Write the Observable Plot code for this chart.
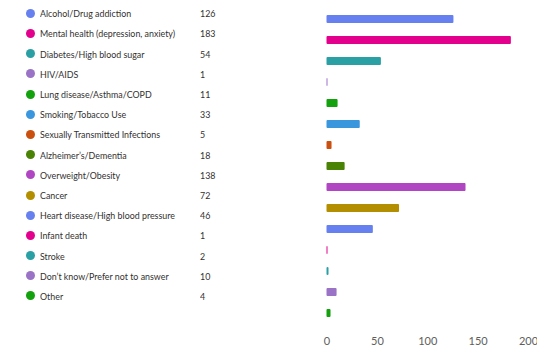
<!DOCTYPE html>
<html>
<head>
<meta charset="utf-8">
<script src="https://cdn.jsdelivr.net/npm/d3@7"></script>
<script src="https://cdn.jsdelivr.net/npm/@observablehq/plot@0.6"></script>
<style>
  html, body { margin: 0; padding: 0; background: #fff; }
  #wrap { position: relative; width: 537px; height: 348px; overflow: hidden; font-family: Lato, "Noto Sans", sans-serif; }
  #list { position: absolute; left: 0; top: 0; }
  .row { position: absolute; left: 0; height: 20px; display: flex; align-items: center; color: #323130; white-space: nowrap; font-size: 10.2px; }
  .dot { position: absolute; left: 25.5px; width: 9px; height: 9px; border-radius: 50%; }
  .lab, .val { position: absolute; transform: scaleX(0.87); transform-origin: left center; }
  .lab { left: 40px; }
  .val { left: 200px; }
  #chart { position: absolute; left: 0; top: 0; }
</style>
</head>
<body>
<div id="wrap"><div id="chart"></div><div id="list"></div></div>
<script>
// Survey answers: health concerns and number of responses
const categories = [
  "Alcohol/Drug addiction",
  "Mental health (depression, anxiety)",
  "Diabetes/High blood sugar",
  "HIV/AIDS",
  "Lung disease/Asthma/COPD",
  "Smoking/Tobacco Use",
  "Sexually Transmitted Infections",
  "Alzheimer’s/Dementia",
  "Overweight/Obesity",
  "Cancer",
  "Heart disease/High blood pressure",
  "Infant death",
  "Stroke",
  "Don’t know/Prefer not to answer",
  "Other"
];
const responses = [126, 183, 54, 1, 11, 33, 5, 18, 138, 72, 46, 1, 2, 10, 4];
const palette = ["#6780ef", "#e3008c", "#2aa0a4", "#9a73c6", "#13a10e", "#3a96dd", "#ca5010", "#498205", "#b146c2", "#b38f00"];
const xTicks = [0, 50, 100, 150, 200];

const data = categories.map((c, i) => ({category: c, value: responses[i], color: palette[i % palette.length]}));

// Legend-style list with swatch, answer text and count
const list = document.getElementById("list");
data.forEach((d, i) => {
  const row = document.createElement("div");
  row.className = "row";
  row.style.top = (3.3 + i * 20.19) + "px";
  row.innerHTML = `<span class="dot" style="background:${d.color}"></span><span class="lab"></span><span class="val"></span>`;
  row.querySelector(".lab").textContent = d.category;
  row.querySelector(".val").textContent = d.value;
  list.appendChild(row);
});

// Horizontal bar chart
const chart = Plot.plot({
  width: 537,
  height: 348,
  marginLeft: 326.5,
  marginRight: 9,
  marginTop: 2.4,
  marginBottom: 19.2,
  style: {fontFamily: "Lato, 'Noto Sans', sans-serif", fontSize: "11px", color: "#605e5c", background: "transparent", overflow: "visible"},
  x: {domain: [0, 200], ticks: xTicks, label: null},
  y: {domain: categories, paddingInner: 0.61, paddingOuter: 0.305, axis: null},
  marks: [
    Plot.gridX(xTicks, {stroke: "#e3e3e3", strokeOpacity: 1, y1: 0, y2: 330}),
    Plot.axisX(xTicks, {tickSize: 0, tickPadding: 8, fill: "#605e5c", label: null}),
    Plot.barX(data, {x: "value", y: "category", fill: "color", rx: 1})
  ]
});
document.getElementById("chart").appendChild(chart);
</script>
</body>
</html>
